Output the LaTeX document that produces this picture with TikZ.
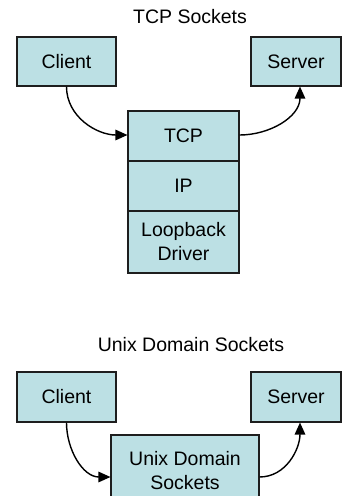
\documentclass[tikz,border=0pt]{standalone}
\usepackage{fontspec}
\setmainfont{Liberation Sans}
\usetikzlibrary{arrows.meta}
\definecolor{boxfill}{RGB}{188,224,228}
\definecolor{boxline}{RGB}{30,30,30}
\tikzset{
  box/.style={draw=boxline, fill=boxfill, line width=1.1pt, inner sep=0pt,
    align=center, font=\fontsize{19.5}{24}\selectfont},
  title/.style={inner sep=0pt, font=\fontsize{19.5}{24}\selectfont},
  flow/.style={line width=1.4pt, -{Triangle[length=12pt,width=10.5pt]}},
}
\begin{document}
\begin{tikzpicture}[x=1pt,y=-1pt]
  \useasboundingbox (0,0) rectangle (344,496);
  \clip (0,0) rectangle (344,496);
  \fill[white] (0,0) rectangle (344,496);

  % --- TCP sockets ---
  \node[title] (t1) at (190,17) {TCP Sockets};
  \node[box, minimum width=99pt, minimum height=49pt] (c1) at (66.5,61.5) {Client};
  \node[box, minimum width=90pt, minimum height=49pt] (s1) at (296,61.5) {Server};
  \node[box, minimum width=111pt, minimum height=50pt] (tcp) at (183.5,136) {TCP};
  \node[box, minimum width=111pt, minimum height=50pt] (ip) at (183.5,186) {IP};
  \node[box, minimum width=111pt, minimum height=62pt] (lo) at (183.5,242) {Loopback\\Driver};

  \draw[flow] (c1.south) to[out=-90,in=180] ([yshift=1pt]tcp.west);
  \draw[flow] ([yshift=1pt]tcp.east) to[out=0,in=-90] ([xshift=4pt]s1.south);

  % --- Unix domain sockets ---
  \node[title] (t2) at (191,345) {Unix Domain Sockets};
  \node[box, minimum width=99pt, minimum height=50pt] (c2) at (66.5,397) {Client};
  \node[box, minimum width=90pt, minimum height=50pt] (s2) at (296,397) {Server};
  \node[box, minimum width=148pt, minimum height=72pt] (uds) at (185,471) {Unix Domain\\Sockets};

  \draw[flow] (c2.south) to[out=-90,in=180] ([yshift=-6pt]uds.west);
  \draw[flow] ([yshift=-6pt]uds.east) to[out=0,in=-90] ([xshift=4pt]s2.south);
\end{tikzpicture}
\end{document}
